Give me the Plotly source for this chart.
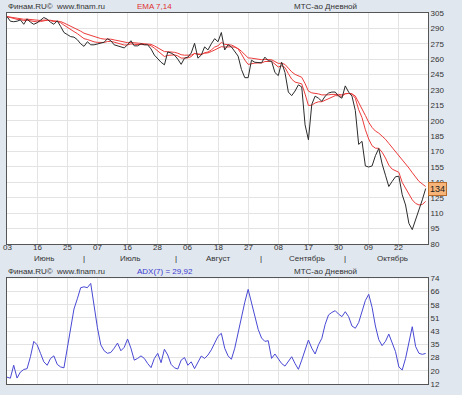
import plotly.graph_objects as go

# ---------------- data ----------------
price = [301.5, 297, 296.5, 297, 298.3, 294, 299.3, 296, 294, 295.5,
         298, 300.6, 299, 296, 294, 297.4, 292, 286, 284, 282,
         281.5, 279, 275, 272.5, 277, 274, 274, 275, 275.5, 276.5,
         280, 278, 274, 273, 272, 271, 274, 278, 273, 273,
         275, 274, 274, 270, 264, 260, 257, 254.5, 267, 266,
         264, 260, 255, 261, 262, 266, 275.5, 261, 264, 272,
         269, 275, 280, 277, 286, 269, 274, 272, 268, 263,
         250, 242, 242, 259, 257, 256.5, 256.5, 262, 258.5, 258,
         247, 244, 257, 247, 228, 224.5, 229, 235, 233, 196,
         181.5, 216, 224, 222, 219, 224, 227, 228, 228, 224,
         222, 234, 228, 224, 210, 177, 180, 156, 155, 156,
         166, 173, 158, 147, 136, 141, 145.5, 146, 128, 118,
         100, 94, 103, 112, 123, 134]

ema7 = [301.5, 300.4, 299.4, 298.8, 298.7, 297.5, 297.9, 297.4, 296.6, 296.3,
        296.7, 297.7, 298.0, 297.5, 296.6, 296.8, 295.6, 293.2, 290.9, 288.7,
        286.9, 284.9, 282.4, 280.0, 279.2, 277.9, 276.9, 276.4, 276.2, 276.3,
        277.2, 277.4, 276.6, 275.7, 274.8, 273.8, 273.9, 274.9, 274.4, 274.1,
        274.3, 274.2, 274.2, 273.1, 270.8, 268.1, 265.3, 262.6, 263.7, 264.3,
        264.2, 263.2, 261.1, 261.1, 261.3, 262.5, 265.7, 264.6, 264.4, 266.3,
        267.0, 269.0, 271.8, 273.1, 276.3, 274.5, 274.4, 273.8, 272.3, 270.0,
        265.0, 259.2, 254.9, 255.9, 256.2, 256.3, 256.3, 257.7, 257.9, 257.9,
        255.2, 252.4, 253.6, 251.9, 245.9, 240.6, 237.7, 237.0, 236.0, 226.0,
        214.9, 215.2, 217.4, 218.5, 218.6, 220.0, 221.7, 223.3, 224.5, 224.4,
        223.8, 226.3, 226.7, 226.0, 222.0, 210.8, 203.1, 191.3, 182.2, 175.7,
        173.3, 173.2, 169.4, 163.8, 156.8, 152.9, 151.0, 149.8, 140.0, 134.0,
        128.0, 123.0, 119.5, 118.0, 118.5, 121.5]

ema14 = [301.5, 300.9, 300.3, 299.9, 299.7, 298.9, 299.0, 298.6, 298.0, 297.6,
         297.7, 298.1, 298.2, 297.9, 297.4, 297.4, 296.7, 295.3, 293.8, 292.2,
         290.8, 289.2, 287.3, 285.3, 284.2, 282.8, 281.6, 280.8, 280.1, 279.6,
         279.7, 279.5, 278.8, 278.0, 277.2, 276.4, 276.1, 276.3, 275.9, 275.5,
         275.4, 275.2, 275.0, 274.4, 273.0, 271.3, 269.4, 267.4, 267.3, 267.1,
         266.7, 265.8, 264.4, 263.9, 263.7, 264.0, 265.5, 264.9, 264.8, 265.8,
         266.2, 267.4, 269.1, 270.1, 272.2, 271.8, 272.1, 272.1, 271.6, 270.4,
         267.7, 264.3, 261.3, 261.0, 260.5, 260.0, 259.5, 259.8, 259.6, 259.4,
         257.7, 255.9, 256.1, 254.9, 251.3, 247.7, 245.2, 243.9, 242.4, 236.2,
         228.9, 227.2, 226.8, 226.2, 225.2, 225.0, 225.3, 225.7, 226.0, 225.7,
         225.2, 226.4, 226.6, 226.3, 224.1, 217.8, 212.8, 205.2, 198.5, 193.5,
         190.0, 188.0, 185.0, 182.0, 178.0, 174.0, 170.5, 167.0, 162.5, 158.0,
         154.0, 149.5, 145.0, 141.0, 138.5, 136.0]

adx = [16, 15.4, 23, 15.5, 19, 20.5, 21, 28, 37, 35,
       30, 25, 23, 27, 28.5, 23.5, 22, 21.5, 33, 45,
       56, 62, 68.5, 69, 68.5, 71, 57, 45, 35, 31.5,
       30, 30.5, 33, 36, 31.5, 33.5, 38.4, 33, 26, 27,
       28.5, 27, 24, 21.6, 27, 30, 24.5, 32.4, 29, 23.5,
       21.5, 20.8, 26, 27.5, 23, 25, 21, 25, 28.4, 27,
       29, 32, 36, 40, 41.7, 33, 28.5, 26.5, 33, 42,
       52, 60, 67.5, 60, 51.5, 44, 39, 37, 37.4, 27,
       29.6, 27, 24, 22.5, 25.5, 28, 24, 20.6, 26, 32,
       37.8, 33, 29.6, 35, 38.8, 47, 52.5, 54, 55, 53,
       51.5, 54.4, 51.5, 46, 44.7, 48, 55, 61, 64.6, 57,
       46, 38, 34.5, 37, 41.3, 36, 31, 22, 20.2, 27,
       36, 45.6, 34, 30, 29.4, 29.92]

date_ticks = ["03", "16", "25", "07", "16", "28", "06", "18", "27", "08",
              "17", "30", "09", "22"]
months = ["Июнь", "Июль", "Август", "Сентябрь", "Октябрь"]
price_ticks = [80, 95, 110, 125, 140, 155, 170, 185, 200, 215, 230, 245,
               260, 275, 290, 305]
adx_tick_labels = ["12", "20", "28", "35", "43", "51", "58", "66", "74"]
last_price = "134"
adx_label = "ADX(7) = 29,92"

# ---------------- layout helpers ----------------
n = len(price)
idx = list(range(n))
tick_idx = [9 * k for k in range(len(date_ticks))]
adx_tickvals = [12 + 7.75 * k for k in range(len(adx_tick_labels))]

FONT = "Liberation Sans, Arial, sans-serif"
TXT = "#333333"
GRID = "#e3e3e3"
FRAME = "#555555"
BG = "#e1e7ef"

fig = go.Figure()
fig.add_trace(go.Scatter(x=idx, y=ema14, mode="lines",
                         line=dict(color="#ec3b3b", width=1), xaxis="x", yaxis="y"))
fig.add_trace(go.Scatter(x=idx, y=ema7, mode="lines",
                         line=dict(color="#ec3b3b", width=1), xaxis="x", yaxis="y"))
fig.add_trace(go.Scatter(x=idx, y=price, mode="lines",
                         line=dict(color="#2b2b2b", width=1), xaxis="x", yaxis="y"))
fig.add_trace(go.Scatter(x=idx, y=adx, mode="lines",
                         line=dict(color="#4848d4", width=1), xaxis="x2", yaxis="y2"))

xr = [0, 125.7]
axis_common = dict(showline=True, mirror=True, linecolor=FRAME, linewidth=1,
                   showgrid=True, gridcolor=GRID, gridwidth=1, zeroline=False,
                   ticks="", tickfont=dict(family=FONT, size=8, color=TXT))

fig.update_layout(
    width=462, height=395,
    margin=dict(l=7, r=34, t=13, b=11, autoexpand=False),
    paper_bgcolor=BG, plot_bgcolor="white",
    showlegend=False,
    xaxis=dict(domain=[0, 1], range=xr, anchor="y",
               tickmode="array", tickvals=tick_idx, showticklabels=False,
               **axis_common),
    yaxis=dict(domain=[0.3774, 1], range=[80, 305], side="right", anchor="x",
               tickmode="array", tickvals=price_ticks, **axis_common),
    xaxis2=dict(domain=[0, 1], range=xr, anchor="y2",
                tickmode="array", tickvals=tick_idx, showticklabels=False,
                **axis_common),
    yaxis2=dict(domain=[0, 0.2849], range=[12, 74], side="right", anchor="x2",
                tickmode="array", tickvals=adx_tickvals, ticktext=adx_tick_labels,
                **axis_common),
)

annots = []
def txt(x, y, s, color=TXT, xanchor="left", xref="paper"):
    annots.append(dict(x=x, y=y, xref=xref, yref="paper", text=s, showarrow=False,
                       xanchor=xanchor, yanchor="middle",
                       font=dict(family=FONT, size=8, color=color)))

# panel headers
for yy, mid, col in [(1.017, "EMA 7,14", "#e03030"), (0.3019, adx_label, "#3a3ad0")]:
    txt(-0.002, yy, "Финам.RU©  www.finam.ru")
    txt(0.305, yy, mid, color=col)
    txt(0.676, yy, "МТС-ао Дневной")

# date tick labels (day numbers)
for t, p in zip(date_ticks, tick_idx):
    txt(p, 0.3666, t, xanchor="center", xref="x")

# month labels and separators
month_pos = [11, 36.7, 63, 89.6, 115]
sep_pos = [23, 50.4, 75.8, 100.9]
for m, p in zip(months, month_pos):
    txt(p, 0.3396, m, xanchor="center", xref="x")
for p in sep_pos:
    txt(p, 0.3396, "|", xanchor="center", xref="x", color="#222222")

# last price marker
annots.append(dict(x=1, y=price[-1], xref="paper", yref="y", text=last_price,
                   showarrow=False, xanchor="left", yanchor="middle",
                   bgcolor="#f7b57a", bordercolor="#b86a2a", borderwidth=1, borderpad=1,
                   font=dict(family=FONT, size=9, color="#222222")))

fig.update_layout(annotations=annots)
fig.write_html("out.html", config={"displayModeBar": False},
               post_script="document.body.style.margin='0';document.body.style.padding='0';")
